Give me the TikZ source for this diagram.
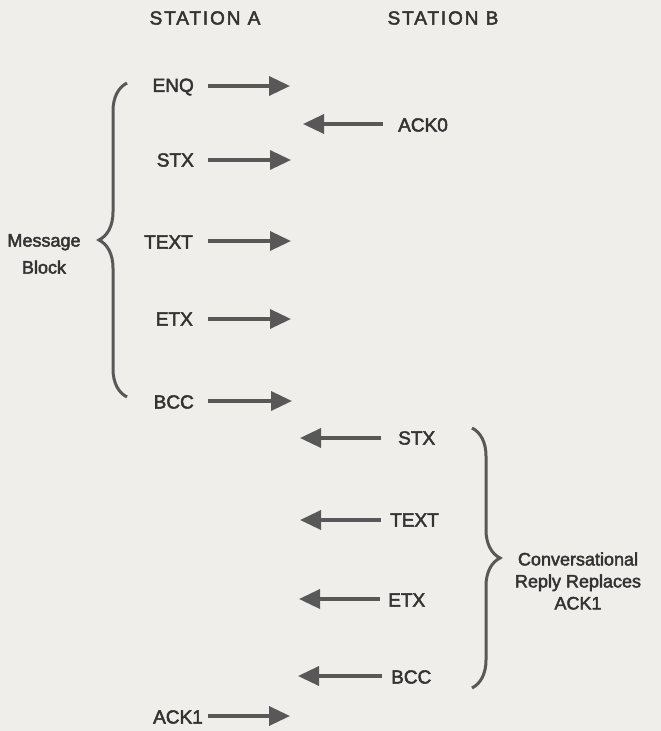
\documentclass[tikz,border=0pt]{standalone}
\usepackage{fontspec}
\setmainfont{Liberation Sans}
\newfontfamily\medfont{Liberation Sans}[FakeBold=2.5]
\newfontfamily\medspaced{Liberation Sans}[FakeBold=2.5,LetterSpace=10]
\usetikzlibrary{arrows.meta,decorations.pathreplacing}
\definecolor{bgc}{HTML}{EFEEEB}
\definecolor{txt}{HTML}{333333}
\definecolor{ink}{HTML}{585858}
\tikzset{
  lbl/.style={text=txt,inner sep=0pt,font=\fontsize{19}{22}\medfont},
  head/.style={text=txt,inner sep=0pt,font=\fontsize{19}{22}\medspaced},
  note/.style={text=txt,inner sep=0pt,align=center},
  arr/.style={draw=ink,line width=3.5pt,-{Triangle[length=21pt,width=19pt]}},
  brc/.style={draw=ink,line width=3pt,decorate,decoration={brace,amplitude=28pt}}
}
\begin{document}
\begin{tikzpicture}[x=1pt,y=-1pt]
\fill[bgc] (0,0) rectangle (661,731);
\useasboundingbox (0,0) rectangle (661,731);
% headings
\node[head] (sa) at (205,18) {STATION A};
\node[head] (sb) at (443,18) {STATION B};
% left labels
\node[lbl,anchor=east] (enq) at (194,87) {ENQ};
\node[lbl,anchor=east] (stxa) at (194,160) {STX};
\node[lbl,anchor=east] (texta) at (193,242) {TEXT};
\node[lbl,anchor=east] (etxa) at (193,319) {ETX};
\node[lbl,anchor=east] (bcca) at (194,402) {BCC};
\node[lbl,anchor=east] (ack1) at (203,717) {ACK1};
% right labels
\node[lbl,anchor=west] (ack0) at (398,125) {ACK0};
\node[lbl,anchor=west] (stxb) at (398,438) {STX};
\node[lbl,anchor=west] (textb) at (390,520) {TEXT};
\node[lbl,anchor=west] (etxb) at (388,600) {ETX};
\node[lbl,anchor=west] (bccb) at (391,677) {BCC};
% arrow ends
\coordinate (enq0) at (208,86);   \coordinate (enq1) at (290,86);
\coordinate (stxa0) at (208,160); \coordinate (stxa1) at (291,160);
\coordinate (texta0) at (208,241);\coordinate (texta1) at (291,241);
\coordinate (etxa0) at (208,319); \coordinate (etxa1) at (291,319);
\coordinate (bcca0) at (208,401); \coordinate (bcca1) at (292,401);
\coordinate (ack10) at (208,716); \coordinate (ack11) at (290,716);
\coordinate (ack00) at (383,124); \coordinate (ack01) at (303,124);
\coordinate (stxb0) at (381,438); \coordinate (stxb1) at (300,438);
\coordinate (textb0) at (381,520);\coordinate (textb1) at (300,520);
\coordinate (etxb0) at (380,599); \coordinate (etxb1) at (299,599);
\coordinate (bccb0) at (382,676); \coordinate (bccb1) at (298,676);
\foreach \a in {enq,stxa,texta,etxa,bcca,ack1,ack0,stxb,textb,etxb,bccb}
  \draw[arr] (\a0) -- (\a1);
% braces
\coordinate (lb0) at (127,397); \coordinate (lb1) at (127,83);
\draw[brc] (lb0) -- (lb1);
\coordinate (rb0) at (472,428); \coordinate (rb1) at (472,688);
\draw[brc] (rb0) -- (rb1);
% notes
\node[note,font=\fontsize{18}{27}\medfont] (mb) at (44,254) {Message\\Block};
\node[note,font=\fontsize{18}{22}\medfont] (crr) at (578,581) {Conversational\\Reply Replaces\\ACK1};
\end{tikzpicture}
\end{document}
